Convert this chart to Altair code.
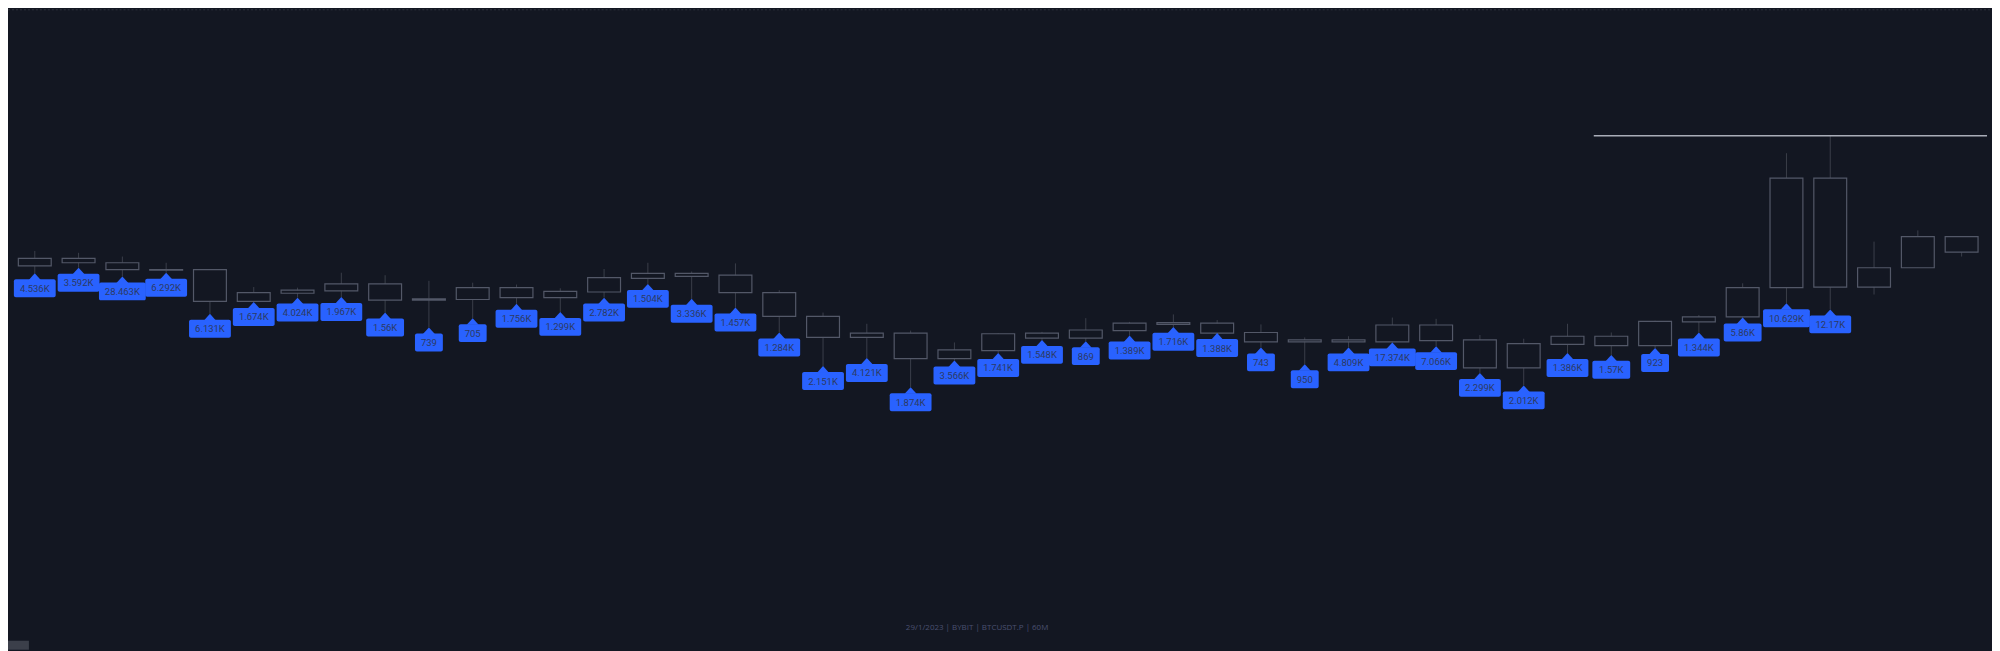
import altair as alt
import pandas as pd

# ---- data (60M candles, prices in USDT) ----
bar_index = list(range(46))
high = [23760, 23775, 23772, 23766, 23756, 23745, 23717, 23716, 23740, 23736,
        23727, 23724, 23721, 23715, 23746, 23756, 23742, 23755, 23712, 23676,
        23658, 23647, 23628, 23643, 23645, 23667, 23661, 23673, 23664, 23657,
        23636, 23638, 23668, 23666, 23640, 23634, 23658, 23644, 23663, 23672,
        23723, 23932, 23960, 23790, 23808, 23798]
open_ = [23750, 23751, 23756, 23745, 23744, 23745, 23708, 23712, 23711, 23722,
         23696, 23697, 23700, 23710, 23709, 23731, 23739, 23736, 23708, 23670,
         23643, 23643, 23616, 23615, 23635, 23635, 23647, 23657, 23659, 23644,
         23632, 23629, 23629, 23656, 23632, 23587, 23625, 23623, 23623, 23661,
         23669, 23716, 23892, 23748, 23748, 23798]
close = [23754, 23763, 23763, 23756, 23745, 23694, 23694, 23707, 23722, 23696,
         23698, 23716, 23716, 23700, 23732, 23739, 23734, 23708, 23670, 23636,
         23636, 23602, 23602, 23642, 23643, 23648, 23659, 23660, 23643, 23629,
         23629, 23632, 23656, 23631, 23587, 23626, 23638, 23638, 23662, 23669,
         23716, 23892, 23717, 23717, 23798, 23773]
low = [23747, 23739, 23748, 23734, 23740, 23674, 23693, 23700, 23701, 23676,
       23652, 23667, 23690, 23677, 23700, 23722, 23698, 23684, 23644, 23590,
       23603, 23556, 23599, 23611, 23632, 23630, 23639, 23653, 23643, 23620,
       23593, 23620, 23628, 23622, 23579, 23559, 23611, 23608, 23619, 23644,
       23668, 23691, 23681, 23705, 23748, 23766]
volume_label = ["", "4.536K", "3.592K", "28.463K", "6.292K", "6.131K", "1.674K",
                "4.024K", "1.967K", "1.56K", "739", "705", "1.756K", "1.299K",
                "2.782K", "1.504K", "3.336K", "1.457K", "1.284K", "2.151K", "4.121K",
                "1.874K", "3.566K", "1.741K", "1.548K", "869", "1.389K", "1.716K",
                "1.388K", "743", "950", "4.809K", "17.374K", "7.066K", "2.299K",
                "2.012K", "1.386K", "1.57K", "923", "1.344K", "5.86K", "10.629K",
                "12.17K", "", "", ""]
level_price = [23960]
level_start = [36.6]
footer_text = ["29/1/2023 | BYBIT | BTCUSDT.P | 60M"]

BG = "#131722"
BLUE = "#2962ff"

candles = pd.DataFrame({"i": bar_index, "high": high, "open": open_,
                        "close": close, "low": low, "label": volume_label})
labels = candles[candles["label"] != ""].copy()
level = pd.DataFrame({"start": level_start, "end": [45.58], "price": level_price})

# the page keeps an 8px margin, so the chart spans 1992 x 643 from (8, 8)
W, H = 1992, 643
xs = alt.Scale(domain=[0.5021, 45.58], nice=False, zero=False)
ys = alt.Scale(domain=[23134.4, 24163.2], nice=False, zero=False)
X = alt.X("i:Q", scale=xs, axis=None)

base = alt.Chart(candles)

wicks = base.mark_rule(color="#3a3e4a", strokeWidth=1).encode(
    x=X, y=alt.Y("low:Q", scale=ys, axis=None), y2="high:Q")

bodies = base.mark_bar(fill=BG, stroke="#535868", strokeWidth=1.2, size=33).encode(
    x=X, y=alt.Y("open:Q", scale=ys, axis=None), y2="close:Q")

lbl_base = alt.Chart(labels)
arrows = lbl_base.mark_point(
    shape="M0,-0.5L1,0.6L-1,0.6Z", filled=True, size=144, color=BLUE,
    opacity=1, strokeWidth=0, yOffset=3).encode(
    x=X, y=alt.Y("low:Q", scale=ys, axis=None))

widths = {3: 28, 5: 38, 6: 42, 7: 47}
boxes = []
for n, w in widths.items():
    boxes.append(
        lbl_base.transform_filter(f"length(datum.label) == {n}").mark_rect(
            color=BLUE, cornerRadius=2, xOffset=-w / 2, x2Offset=w / 2,
            yOffset=6, y2Offset=24).encode(
            x=X, x2="i:Q", y=alt.Y("low:Q", scale=ys, axis=None), y2="low:Q"))

texts = lbl_base.mark_text(font="Roboto", fontSize=9.5, color="#2c3a63",
                           align="center", baseline="middle", yOffset=15.5).encode(
    x=X, y=alt.Y("low:Q", scale=ys, axis=None), text="label:N")

level_line = alt.Chart(level).mark_rule(color="#a9adb8", strokeWidth=1.5).encode(
    x=alt.X("start:Q", scale=xs, axis=None), x2="end:Q",
    y=alt.Y("price:Q", scale=ys, axis=None))

top_line = alt.Chart(pd.DataFrame({"a": [0]})).mark_rule(
    color="#2e323d", strokeDash=[2, 2], strokeWidth=1).encode(
    x=alt.value(0), x2=alt.value(W), y=alt.value(0.5))

footer = alt.Chart(pd.DataFrame({"t": footer_text})).mark_text(
    font="Open Sans", fontSize=8, color="#4a5070", align="center",
    baseline="middle").encode(x=alt.value(973), y=alt.value(621), text="t:N")

corner_box = alt.Chart(pd.DataFrame({"a": [0]})).mark_rect(color="#3b3f4a").encode(
    x=alt.value(0), x2=alt.value(21), y=alt.value(634), y2=alt.value(H))

chart = alt.layer(
    top_line, wicks, bodies, level_line, *boxes, arrows, texts, footer,
    corner_box
).properties(
    width=W, height=H, padding=0, autosize="none", background=BG
).configure_view(stroke=None)

chart.save("out.html", embed_options={"renderer": "svg", "actions": False})
